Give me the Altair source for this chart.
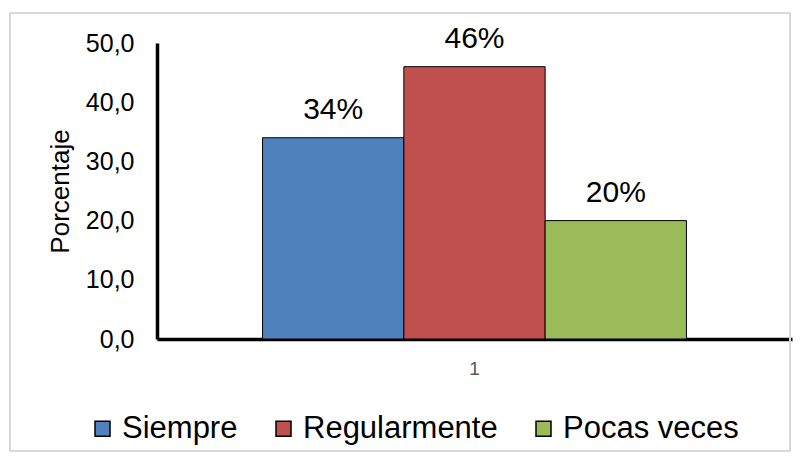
import altair as alt
import pandas as pd

categories = ["1"]
series = ["Siempre", "Regularmente", "Pocas veces"]
values = [34.0, 46.0, 20.0]
labels = ["34%", "46%", "20%"]
colors = ["#4f81bd", "#c0504d", "#9bbb59"]
y_ticks = [0, 10, 20, 30, 40, 50]

df = pd.DataFrame({
    "cat": categories * len(series),
    "serie": series,
    "valor": values,
    "etiqueta": labels,
})

FONT = "Liberation Sans"
W, H = 635, 296

x = alt.X("cat:N", title=None,
          scale=alt.Scale(paddingOuter=0.249, paddingInner=0),
          axis=alt.Axis(labelAngle=0, labelFontSize=19, labelColor="#595959",
                        labelFont=FONT, labelPadding=20, ticks=False,
                        domainColor="black", domainWidth=3.5))
xo = alt.XOffset("serie:N", sort=series,
                 scale=alt.Scale(paddingInner=0, paddingOuter=0))
y = alt.Y("valor:Q", title="Porcentaje",
          scale=alt.Scale(domain=[0, 50]),
          axis=alt.Axis(values=y_ticks,
                        labelExpr="replace(format(datum.value, '.1f'), '.', ',')",
                        grid=False, ticks=False, domainColor="black", domainWidth=3.5,
                        labelFontSize=25, labelColor="black", labelFont=FONT,
                        labelPadding=23, titleFontSize=26, titleFontWeight="normal",
                        titleColor="black", titleFont=FONT, titleX=-97,
                        titleBaseline="middle"))

bars = alt.Chart(df).mark_bar(stroke="black", strokeWidth=1).encode(
    x=x, xOffset=xo, y=y,
    color=alt.Color("serie:N", sort=series,
                    scale=alt.Scale(domain=series, range=colors),
                    legend=alt.Legend(title=None, orient="none", legendX=-70, legendY=370,
                                      direction="horizontal", symbolType="square",
                                      symbolSize=225, symbolStrokeColor="black",
                                      symbolStrokeWidth=1.5, symbolOpacity=1,
                                      labelFontSize=31, labelFont=FONT, labelColor="black",
                                      labelLimit=0, labelOffset=4, columnPadding=30)),
)

text = alt.Chart(df).mark_text(baseline="alphabetic", dy=-19, fontSize=30,
                               font=FONT, color="black").encode(
    x=x, xOffset=xo, y=y, text="etiqueta:N")

frame = alt.Chart(df).mark_rect(fillOpacity=0, stroke="#d9d9d9", strokeWidth=1.5).encode(
    x=alt.value(-147), x2=alt.value(633), y=alt.value(-30), y2=alt.value(408))

chart = alt.layer(frame, bars, text).properties(
    width=W, height=H,
    autosize="none",
    padding={"left": 149, "top": 35, "right": 7, "bottom": 114},
).configure_view(stroke="transparent")

chart.save("out.html", embed_options={"renderer": "svg", "actions": False})
